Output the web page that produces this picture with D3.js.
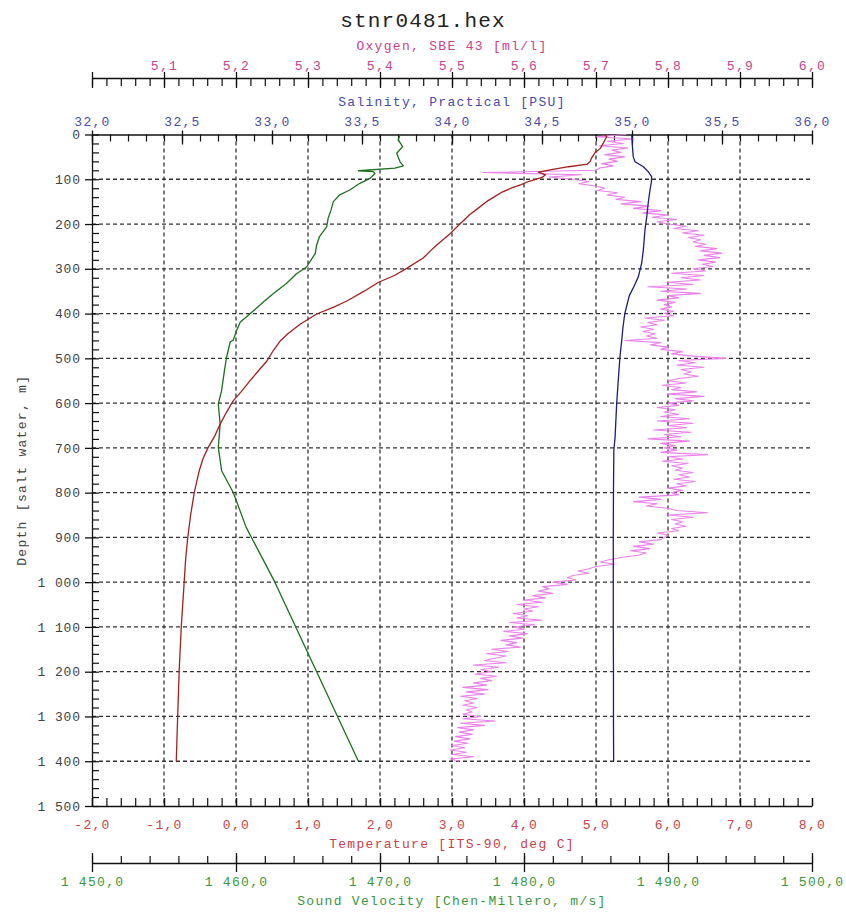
<!DOCTYPE html>
<html>
<head>
<meta charset="utf-8">
<script src="https://cdn.jsdelivr.net/npm/d3@7"></script>
<style>
  body { margin: 0; background: #fff; }
  svg { display: block; }
  text { font-family: "Liberation Mono", "DejaVu Sans Mono", monospace; }
</style>
</head>
<body>
<svg id="chart" width="846" height="913"></svg>
<script>
// ---- CTD cast stnr0481 -------------------------------------------------
const title = "stnr0481.hex";
const axisTitles = {
  oxygen: "Oxygen, SBE 43 [ml/l]",
  salinity: "Salinity, Practical [PSU]",
  temperature: "Temperature [ITS-90, deg C]",
  sound: "Sound Velocity [Chen-Millero, m/s]",
  depth: "Depth [salt water, m]"
};

// axis domains
const depthDomain = [0, 1500];
const tempDomain = [-2, 8];
const salDomain = [32, 36];
const oxyDomain = [5, 6];
const svDomain = [1450, 1500];

// labelled ticks
const depthTicks = [0, 100, 200, 300, 400, 500, 600, 700, 800, 900, 1000, 1100, 1200, 1300, 1400, 1500];
const tempTicks = [-2, -1, 0, 1, 2, 3, 4, 5, 6, 7, 8];
const salTicks = [32, 32.5, 33, 33.5, 34, 34.5, 35, 35.5, 36];
const oxyTicks = [5.1, 5.2, 5.3, 5.4, 5.5, 5.6, 5.7, 5.8, 5.9, 6.0];
const svTicks = [1450, 1460, 1470, 1480, 1490, 1500];

// temperature profile [depth m, deg C]
const temperature = [
  [0, 5.12], [5, 5.15], [10, 5.13], [20, 5.10], [31, 5.06], [42, 4.98], [52, 4.94],
  [60, 4.92], [66, 4.88], [72, 4.62], [78, 4.40], [84, 4.20], [90, 4.30], [96, 4.25],
  [105, 4.06], [112, 3.96], [120, 3.82], [130, 3.68], [140, 3.58], [150, 3.48],
  [165, 3.36], [180, 3.24], [200, 3.11], [222, 2.97], [245, 2.80], [260, 2.70],
  [276, 2.60], [299, 2.37], [315, 2.20], [330, 1.98], [350, 1.78], [372, 1.54],
  [386, 1.35], [401, 1.12], [424, 0.89], [445, 0.72], [462, 0.61], [482, 0.52],
  [506, 0.43], [530, 0.30], [551, 0.19], [575, 0.07], [595, -0.04], [620, -0.13],
  [647, -0.22], [675, -0.30], [700, -0.39], [725, -0.46], [751, -0.51], [800, -0.58],
  [850, -0.63], [900, -0.67], [950, -0.70], [1000, -0.72], [1100, -0.76],
  [1200, -0.79], [1300, -0.81], [1400, -0.83]
];

// practical salinity profile [depth m, PSU]
const salinity = [
  [0, 34.998], [10, 35.000], [30, 35.003], [50, 35.007], [61, 35.017], [72, 35.063],
  [83, 35.090], [94, 35.109], [105, 35.108], [124, 35.100], [153, 35.090],
  [184, 35.082], [213, 35.072], [258, 35.063], [287, 35.054], [318, 35.035],
  [340, 35.010], [360, 34.985], [400, 34.960], [430, 34.950], [460, 34.943],
  [497, 34.933], [548, 34.924], [600, 34.915], [676, 34.906], [706, 34.899],
  [800, 34.897], [900, 34.896], [1000, 34.896], [1100, 34.896], [1200, 34.897],
  [1300, 34.897], [1400, 34.898]
];

// sound velocity profile [depth m, m/s]
const soundVelocity = [
  [0, 1471.39], [12, 1471.27], [27, 1471.57], [42, 1471.16], [61, 1471.39],
  [70, 1471.62], [75, 1471.04], [81, 1468.50], [83, 1469.54], [87, 1469.65],
  [98, 1469.30], [109, 1468.60], [124, 1467.90], [135, 1467.20], [150, 1466.76],
  [169, 1466.60], [187, 1466.40], [206, 1466.30], [228, 1465.80], [247, 1465.60],
  [266, 1465.50], [296, 1464.90], [311, 1464.20], [333, 1463.50], [355, 1462.60],
  [374, 1461.90], [400, 1461.00], [419, 1460.30], [437, 1460.05], [460, 1459.80],
  [463, 1459.60], [497, 1459.35], [527, 1459.20], [572, 1459.00], [602, 1458.77],
  [647, 1458.90], [699, 1458.77], [751, 1459.00], [799, 1459.80], [877, 1460.70],
  [1000, 1462.70], [1100, 1464.15], [1200, 1465.60], [1300, 1467.05], [1400, 1468.50]
];

// dissolved oxygen [ml/l], one value per 5 m bin from 0 to 1400 m
const oxygenBin = 5;
const oxygen = [
  5.742, 5.700, 5.752, 5.716, 5.738, 5.705, 5.744, 5.722, 5.735, 5.712,
  5.740, 5.718, 5.730, 5.708, 5.724, 5.705, 5.700, 5.543, 5.680, 5.635,
  5.668, 5.690, 5.676, 5.700, 5.712, 5.702, 5.730, 5.715, 5.740, 5.728,
  5.762, 5.735, 5.774, 5.752, 5.790, 5.765, 5.800, 5.778, 5.812, 5.785,
  5.800, 5.825, 5.808, 5.842, 5.820, 5.850, 5.828, 5.845, 5.835, 5.852,
  5.838, 5.868, 5.845, 5.875, 5.850, 5.872, 5.842, 5.866, 5.848, 5.862,
  5.835, 5.852, 5.805, 5.850, 5.818, 5.845, 5.800, 5.835, 5.772, 5.826,
  5.790, 5.845, 5.800, 5.815, 5.785, 5.810, 5.795, 5.805, 5.790, 5.808,
  5.795, 5.808, 5.768, 5.795, 5.772, 5.785, 5.762, 5.780, 5.765, 5.782,
  5.770, 5.785, 5.740, 5.790, 5.776, 5.800, 5.790, 5.820, 5.805, 5.835,
  5.880, 5.815, 5.838, 5.812, 5.850, 5.818, 5.832, 5.822, 5.842, 5.815,
  5.800, 5.825, 5.792, 5.818, 5.805, 5.840, 5.800, 5.850, 5.810, 5.835,
  5.800, 5.815, 5.785, 5.810, 5.795, 5.815, 5.790, 5.830, 5.785, 5.835,
  5.800, 5.826, 5.780, 5.832, 5.795, 5.818, 5.772, 5.830, 5.790, 5.810,
  5.795, 5.812, 5.790, 5.855, 5.800, 5.820, 5.792, 5.828, 5.805, 5.820,
  5.810, 5.835, 5.815, 5.830, 5.808, 5.838, 5.812, 5.825, 5.800, 5.820,
  5.805, 5.815, 5.760, 5.790, 5.752, 5.785, 5.770, 5.800, 5.812, 5.855,
  5.800, 5.835, 5.805, 5.820, 5.810, 5.825, 5.805, 5.815, 5.785, 5.800,
  5.795, 5.790, 5.760, 5.780, 5.752, 5.775, 5.748, 5.770, 5.758, 5.735,
  5.718, 5.706, 5.726, 5.700, 5.690, 5.675, 5.690, 5.668, 5.660, 5.672,
  5.640, 5.660, 5.626, 5.635, 5.620, 5.640, 5.612, 5.630, 5.600, 5.625,
  5.590, 5.620, 5.600, 5.612, 5.585, 5.605, 5.590, 5.625, 5.580, 5.615,
  5.585, 5.600, 5.572, 5.605, 5.580, 5.598, 5.568, 5.590, 5.575, 5.595,
  5.555, 5.578, 5.548, 5.575, 5.560, 5.545, 5.575, 5.530, 5.565, 5.540,
  5.555, 5.532, 5.562, 5.540, 5.555, 5.530, 5.548, 5.515, 5.550, 5.520,
  5.545, 5.512, 5.535, 5.518, 5.530, 5.515, 5.535, 5.520, 5.528, 5.515,
  5.540, 5.515, 5.560, 5.512, 5.545, 5.508, 5.530, 5.510, 5.528, 5.505,
  5.525, 5.503, 5.522, 5.500, 5.518, 5.498, 5.520, 5.500, 5.530, 5.498, 5.510
];

// ---- styling ---------------------------------------------------------
const colors = {
  temperature: "#a32020", temperatureText: "#c8404a",
  salinity: "#1c1c82", salinityText: "#4a4aa8",
  oxygen: "#ea82ea", oxygenText: "#c8448c",
  sound: "#1d701d", soundText: "#3a963a",
  axis: "#111", grid: "#333", depthText: "#444"
};
const plot = { left: 92, right: 812, top: 134.5, bottom: 806 };
const labelFont = { size: 13, spacing: 1.3 };

// European number style: decimal comma, space thousands, ASCII minus
const locale = d3.formatLocale({ decimal: ",", thousands: " ", grouping: [3], currency: ["", ""], minus: "-" });
const fmt1 = locale.format(",.1f");
const fmtInt = locale.format(",d");

const svg = d3.select("#chart");

const y = d3.scaleLinear().domain(depthDomain).range([plot.top, plot.bottom]);
const xT = d3.scaleLinear().domain(tempDomain).range([plot.left, plot.right]);
const xS = d3.scaleLinear().domain(salDomain).range([plot.left, plot.right]);
const xO = d3.scaleLinear().domain(oxyDomain).range([plot.left, plot.right]);
const xV = d3.scaleLinear().domain(svDomain).range([plot.left, plot.right]);

function steps(lo, hi, step) {
  const n = Math.round((hi - lo) / step);
  return d3.range(n + 1).map(i => +(lo + i * step).toFixed(6));
}

// ---- grid ------------------------------------------------------------
const grid = svg.append("g").attr("stroke", colors.grid).attr("stroke-width", 1.3)
  .attr("stroke-dasharray", "4,3");
grid.selectAll("line.h").data(depthTicks.filter(d => d > 0 && d < 1500)).join("line")
  .attr("class", "h").attr("x1", plot.left).attr("x2", plot.right)
  .attr("y1", d => y(d)).attr("y2", d => y(d));
grid.selectAll("line.v").data(tempTicks.filter(d => d > -2 && d < 8)).join("line")
  .attr("class", "v").attr("y1", plot.top).attr("y2", plot.bottom)
  .attr("x1", d => xT(d)).attr("x2", d => xT(d));

// ---- horizontal axis helper -----------------------------------------
// minorDir: -1 ticks go up from the line, +1 go down
function hAxis(scale, yPos, majors, minors, minorDir, minorLen, majUp, majDown, labelY, color, fmt) {
  const g = svg.append("g").attr("transform", `translate(0,${yPos})`);
  g.append("g")
    .call(d3.axisBottom(scale).tickValues(minors).tickSize(minorDir * minorLen).tickSizeOuter(0).tickFormat(""))
    .call(s => s.select(".domain").attr("stroke", colors.axis).attr("stroke-width", 1.3))
    .call(s => s.selectAll(".tick line").attr("stroke", colors.axis).attr("stroke-width", 1.2));
  const m = g.append("g")
    .call(d3.axisBottom(scale).tickValues(majors).tickFormat(fmt))
    .call(s => s.select(".domain").remove());
  m.selectAll(".tick line").attr("y1", -majUp).attr("y2", majDown)
    .attr("stroke", colors.axis).attr("stroke-width", 1.3);
  m.selectAll(".tick text").attr("y", labelY).attr("dy", null)
    .attr("fill", color).attr("font-size", labelFont.size).attr("letter-spacing", labelFont.spacing)
    .attr("font-family", "Liberation Mono, DejaVu Sans Mono, monospace");
  return g;
}

// oxygen axis (top)
hAxis(xO, 78, [5.0].concat(oxyTicks), steps(5, 6, 0.02), 1, 8, 6, 10, -8, colors.oxygenText, d => d === 5.0 ? "" : fmt1(d));
// salinity axis (plot top)
hAxis(xS, plot.top, salTicks, steps(32, 36, 0.1), 1, 7, 4, 10, -9, colors.salinityText, fmt1);
// temperature axis (plot bottom)
hAxis(xT, plot.bottom, tempTicks, steps(-2, 8, 0.2), -1, 8, 8, 0, 23, colors.temperatureText, fmt1);
// sound velocity axis (bottom)
hAxis(xV, 863, svTicks, steps(1450, 1500, 2), -1, 7, 10, 9, 23, colors.soundText, fmt1);

// ---- depth axis -------------------------------------------------------
const gy = svg.append("g").attr("transform", `translate(${plot.left},0)`);
gy.append("g")
  .call(d3.axisRight(y).tickValues(steps(0, 1500, 20)).tickSize(7).tickSizeOuter(0).tickFormat(""))
  .call(s => s.select(".domain").attr("stroke", colors.axis).attr("stroke-width", 1.3))
  .call(s => s.selectAll(".tick line").attr("stroke", colors.axis).attr("stroke-width", 1.2));
gy.append("g")
  .call(d3.axisLeft(y).tickValues(depthTicks).tickSize(7).tickPadding(4).tickFormat(fmtInt))
  .call(s => s.select(".domain").remove())
  .call(s => s.selectAll(".tick line").attr("stroke", colors.axis).attr("stroke-width", 1.3))
  .call(s => s.selectAll(".tick text").attr("fill", colors.depthText).attr("font-size", labelFont.size)
    .attr("letter-spacing", 0.9).attr("font-family", "Liberation Mono, DejaVu Sans Mono, monospace"));

// ---- profiles --------------------------------------------------------
const curves = svg.append("g").attr("fill", "none").attr("stroke-linejoin", "round");

const oxyLine = d3.line().x(d => xO(d)).y((d, i) => y(i * oxygenBin));
curves.append("path").datum(oxygen).attr("d", oxyLine)
  .attr("stroke", colors.oxygen).attr("stroke-width", 1.1);

const pairLine = xs => d3.line().x(d => xs(d[1])).y(d => y(d[0]));
curves.append("path").datum(salinity).attr("d", pairLine(xS))
  .attr("stroke", colors.salinity).attr("stroke-width", 1.3);
curves.append("path").datum(soundVelocity).attr("d", pairLine(xV))
  .attr("stroke", colors.sound).attr("stroke-width", 1.3);
curves.append("path").datum(temperature).attr("d", pairLine(xT))
  .attr("stroke", colors.temperature).attr("stroke-width", 1.3);

// ---- titles ----------------------------------------------------------
const cx = (plot.left + plot.right) / 2;
svg.append("text").attr("x", 423).attr("y", 27).attr("text-anchor", "middle")
  .attr("font-size", 21).attr("letter-spacing", 1.2).attr("fill", "#222").text(title);
const tt = (txt, yPos, color) => svg.append("text").attr("x", cx).attr("y", yPos)
  .attr("text-anchor", "middle").attr("font-size", labelFont.size).attr("letter-spacing", labelFont.spacing)
  .attr("fill", color).text(txt);
tt(axisTitles.oxygen, 50, colors.oxygenText);
tt(axisTitles.salinity, 106, colors.salinityText);
tt(axisTitles.temperature, 848, colors.temperatureText);
tt(axisTitles.sound, 905, colors.soundText);
svg.append("text").attr("transform", `translate(26,${(plot.top + plot.bottom) / 2}) rotate(-90)`)
  .attr("text-anchor", "middle").attr("font-size", labelFont.size).attr("letter-spacing", labelFont.spacing)
  .attr("fill", colors.depthText).text(axisTitles.depth);
</script>
</body>
</html>
